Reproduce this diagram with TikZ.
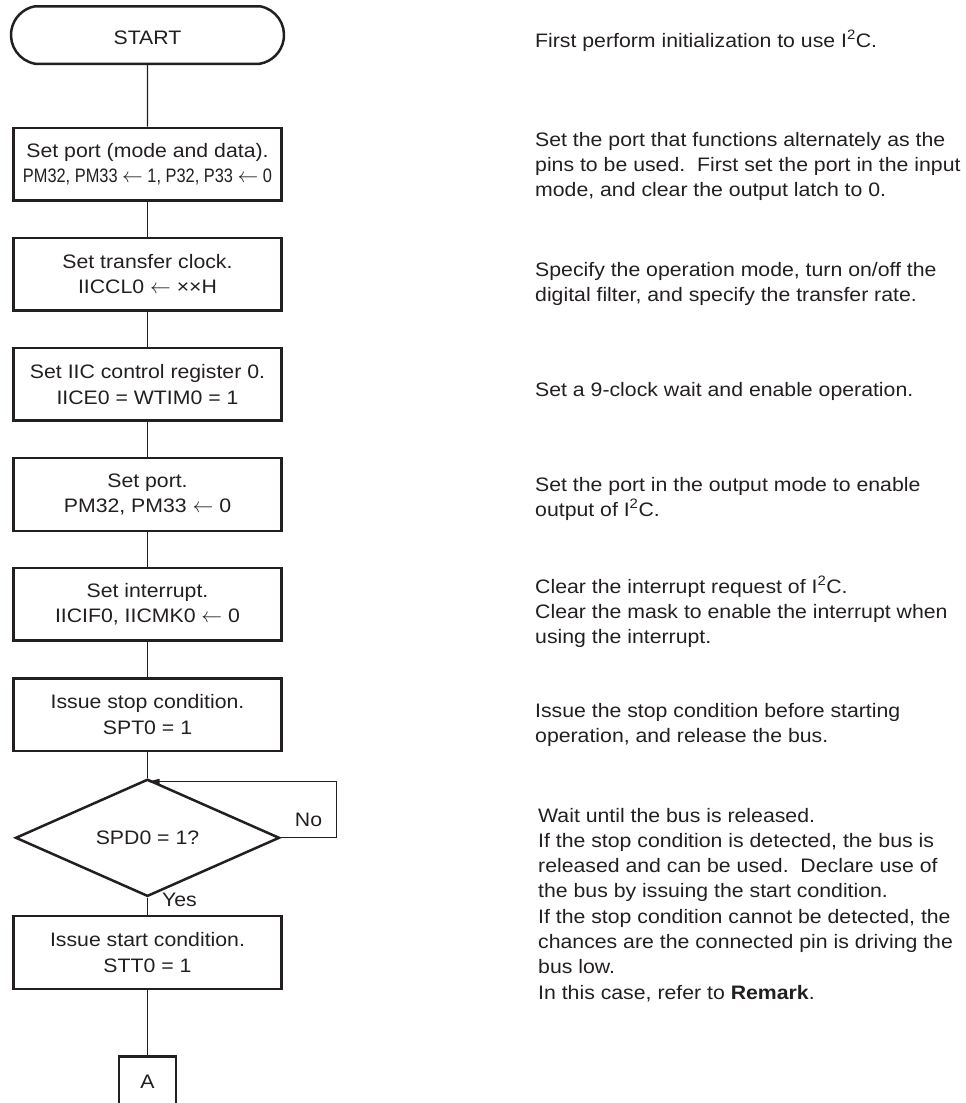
\documentclass[tikz,border=0pt]{standalone}
\usepackage{fontspec}
\setmainfont[FakeStretch=1.09]{Liberation Sans}
\newfontfamily\condfont[FakeStretch=0.84]{Liberation Sans}
\usetikzlibrary{shapes.geometric,shapes.misc,arrows.meta}
\definecolor{ink}{RGB}{35,31,32}
\begin{document}
\begin{tikzpicture}[x=1pt,y=-1pt]
\tikzset{
  every node/.style={font=\fontsize{19.5}{25.5}\selectfont, text=ink},
  proc/.style={draw=ink, line width=2.5pt, rectangle, minimum width=268pt, minimum height=72.7pt, inner sep=0pt, align=center, execute at begin node={\rule{0pt}{19.5pt}}},
  term/.style={draw=ink, line width=2.5pt, rounded rectangle, rounded rectangle arc length=160, minimum width=273pt, minimum height=57.5pt, inner sep=0pt, execute at begin node={\rule{0pt}{18.5pt}}},
  decision/.style={draw=ink, line width=2.5pt, diamond, minimum width=264pt, minimum height=86pt, inner sep=0pt},
  conn/.style={draw=ink, line width=1.1pt},
  note/.style={anchor=base west, align=left, inner sep=0pt, font=\fontsize{19.5}{25.3}\selectfont},
  lbl/.style={anchor=base, inner sep=0pt}
}
\useasboundingbox (0,0) rectangle (966,1103);

% flowchart
\node[term] (start) at (147.5,35) {START};
\node[proc] (b1) at (147.5,164.3) {Set port (mode and data).\\{\condfont PM32, PM33 $\leftarrow$ 1, P32, P33 $\leftarrow$ 0}};
\node[proc] (b2) at (147.5,274.2) {Set transfer clock.\\IICCL0 $\leftarrow$ ××H};
\node[proc] (b3) at (147.5,384.3) {Set IIC control register 0.\\IICE0 = WTIM0 = 1};
\node[proc] (b4) at (147.5,494.5) {Set port.\\PM32, PM33 $\leftarrow$ 0};
\node[proc] (b5) at (147.5,604.2) {Set interrupt.\\IICIF0, IICMK0 $\leftarrow$ 0};
\node[proc] (b6) at (147.5,714.7) {Issue stop condition.\\SPT0 = 1};
\node[decision] (dec) at (147.5,837.8) {SPD0 = 1?};
\node[proc] (b7) at (147.5,952.5) {Issue start condition.\\STT0 = 1};
\node[draw=ink, line width=2.5pt, rectangle, minimum width=57.3pt, minimum height=51.4pt, inner sep=0pt] (A) at (147.5,1082) {A};

\coordinate (join) at (147.5,781.7);
\coordinate (loopR) at (336.7,781.7);

\draw[conn] (start) -- (b1);
\draw[conn] (b1) -- (b2);
\draw[conn] (b2) -- (b3);
\draw[conn] (b3) -- (b4);
\draw[conn] (b4) -- (b5);
\draw[conn] (b5) -- (b6);
\draw[conn] (b6) -- (dec);
\draw[conn] (dec) -- (b7);
\draw[conn] (b7) -- (A);
\draw[conn, -{Triangle[length=12pt,width=5.5pt]}] (dec.east) -| (loopR) -- (join);

\node[lbl] (no) at (308.5,826.7) {No};
\node[lbl] (yes) at (179.5,906.7) {Yes};

% notes (anchored at the baseline of their last line)
\node[note] (n1) at (535,47.3) {First perform initialization to use I\textsuperscript{2}C.};
\node[note] (n2) at (535,196.6) {Set the port that functions alternately as the\\pins to be used.\ \ First set the port in the input\\mode, and clear the output latch to 0.};
\node[note] (n3) at (535,301.3) {Specify the operation mode, turn on/off the\\digital filter, and specify the transfer rate.};
\node[note] (n4) at (535,396.7) {Set a 9-clock wait and enable operation.};
\node[note] (n5) at (535,516.3) {Set the port in the output mode to enable\\output of I\textsuperscript{2}C.};
\node[note] (n6) at (535,643.9) {Clear the interrupt request of I\textsuperscript{2}C.\\Clear the mask to enable the interrupt when\\using the interrupt.};
\node[note] (n7) at (535,742.6) {Issue the stop condition before starting\\operation, and release the bus.};
\node[note] (n8) at (538,999.1) {Wait until the bus is released.\\If the stop condition is detected, the bus is\\released and can be used.\ \ Declare use of\\the bus by issuing the start condition.\\If the stop condition cannot be detected, the\\chances are the connected pin is driving the\\bus low.\\In this case, refer to \textbf{Remark}.};
\end{tikzpicture}
\end{document}
